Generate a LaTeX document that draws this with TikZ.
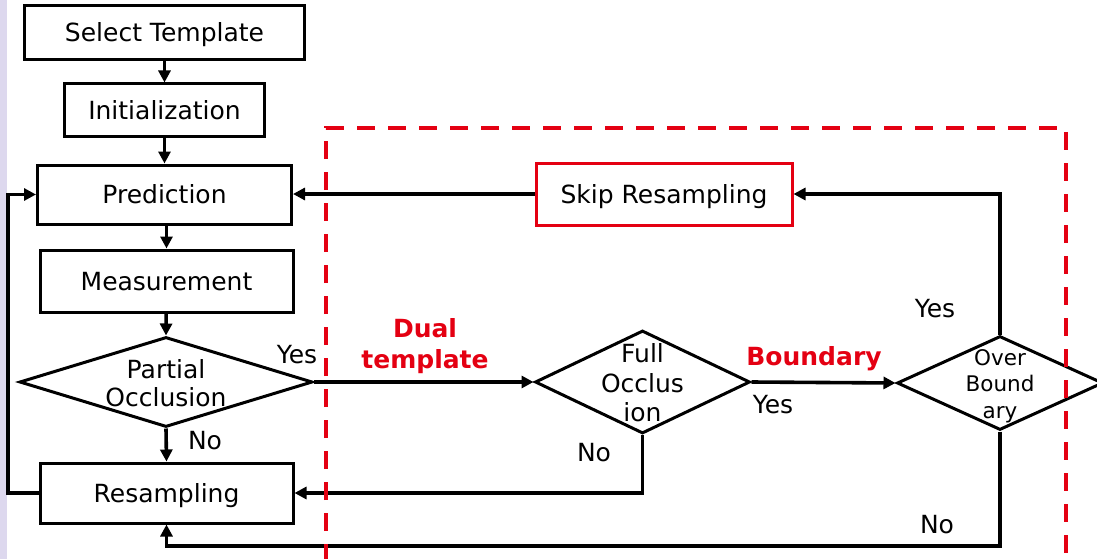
\documentclass[tikz,border=0pt]{standalone}
\usepackage{fontspec}
\setmainfont{DejaVu Sans}
\usetikzlibrary{arrows.meta,shapes.geometric}
\definecolor{myred}{RGB}{228,0,18}
\definecolor{lav}{RGB}{221,216,238}
\begin{document}
\begin{tikzpicture}[x=1pt,y=-1pt,
  box/.style={draw=black,line width=3pt,inner sep=0pt,fill=white,
    text height=18pt,text depth=0pt,
    font=\fontsize{25}{29}\selectfont},
  redbox/.style={box,draw=myred},
  dia/.style={draw=black,line width=3pt,shape=diamond,inner sep=0pt,fill=white},
  diatext/.style={align=center,inner sep=0pt,font=\fontsize{25}{28}\selectfont},
  lbl/.style={inner sep=0pt,font=\fontsize{25}{29}\selectfont},
  redlbl/.style={inner sep=0pt,text=myred,align=center,font=\fontsize{25}{31}\selectfont\bfseries},
  arr/.style={line width=3.6pt,-{Triangle[length=12pt,width=12pt]}},
  redframe/.style={draw=myred,line width=4.5pt,dash pattern=on 18pt off 13pt}
]
\useasboundingbox (0,0) rectangle (1097,559);
\clip (0,0) rectangle (1097,559);
\fill[lav] (0,0) rectangle (7,559);

% boxes
\node[box,minimum width=280,minimum height=54] (sel) at (164.5,33) {Select Template};
\node[box,minimum width=200,minimum height=53] (init) at (164.5,110.5) {Initialization};
\node[box,minimum width=254,minimum height=59] (pred) at (164.5,194.5) {Prediction};
\node[box,minimum width=253,minimum height=62] (meas) at (166.5,281) {Measurement};
\node[box,minimum width=253,minimum height=60] (resamp) at (166.5,493) {Resampling};
\node[redbox,minimum width=256,minimum height=62] (skip) at (664,194) {Skip Resampling};

% diamonds
\node[dia,minimum width=293,minimum height=90] (po) at (166,382) {};
\node[diatext] (pot) at (166,383) {Partial\\Occlusion};
\node[dia,minimum width=215,minimum height=103] (fo) at (642.5,382) {};
\node[diatext,font=\fontsize{25}{29.5}\selectfont] (fot) at (642.5,383) {Full\\Occlus\\ion};
\node[dia,minimum width=206,minimum height=94] (ob) at (1000,383) {};
\node[diatext,font=\fontsize{21.5}{26.5}\selectfont] (obt) at (1000,386) {Over\\Bound\\ary};

% connectors
\draw[arr] (sel) -- (init);
\draw[arr] (init) -- (pred);
\draw[arr] (pred.south -| meas.north) -- (meas.north);
\draw[arr] (meas) -- (po.north);
\draw[arr] (po.south) -- (resamp.north);
\coordinate (lx) at (8,493);
\draw[arr] (resamp.west) -- (lx) |- (pred.west);
\draw[arr] (po.east) -- (fo.west);
\draw[arr] (fo.east) -- (ob.west);
\draw[arr] (ob.north) |- (skip.east);
\draw[arr] (skip.west) -- (skip.west -| pred.east);
\draw[arr] (fo.south) |- (resamp.east);
\coordinate (bt) at (1000,546);
\draw[arr] (ob.south) -- (bt) -| (resamp.south);

% labels
\node[lbl] (y1) at (297,355) {Yes};
\node[lbl] (n1) at (205,441) {No};
\node[lbl] (y2) at (773,405) {Yes};
\node[lbl] (n2) at (594,453) {No};
\node[lbl] (y3) at (935,309) {Yes};
\node[lbl] (n3) at (937,525) {No};
\node[redlbl] (dual) at (425,346) {Dual\\template};
\node[redlbl] (bnd) at (814,359) {Boundary};

% red dashed frame
\coordinate (f1) at (326,562);
\coordinate (f2) at (326,128);
\coordinate (f3) at (1066,128);
\coordinate (f4) at (1066,562);
\draw[redframe] (f1) -- (f2) -- (f3) -- (f4);
\end{tikzpicture}
\end{document}
